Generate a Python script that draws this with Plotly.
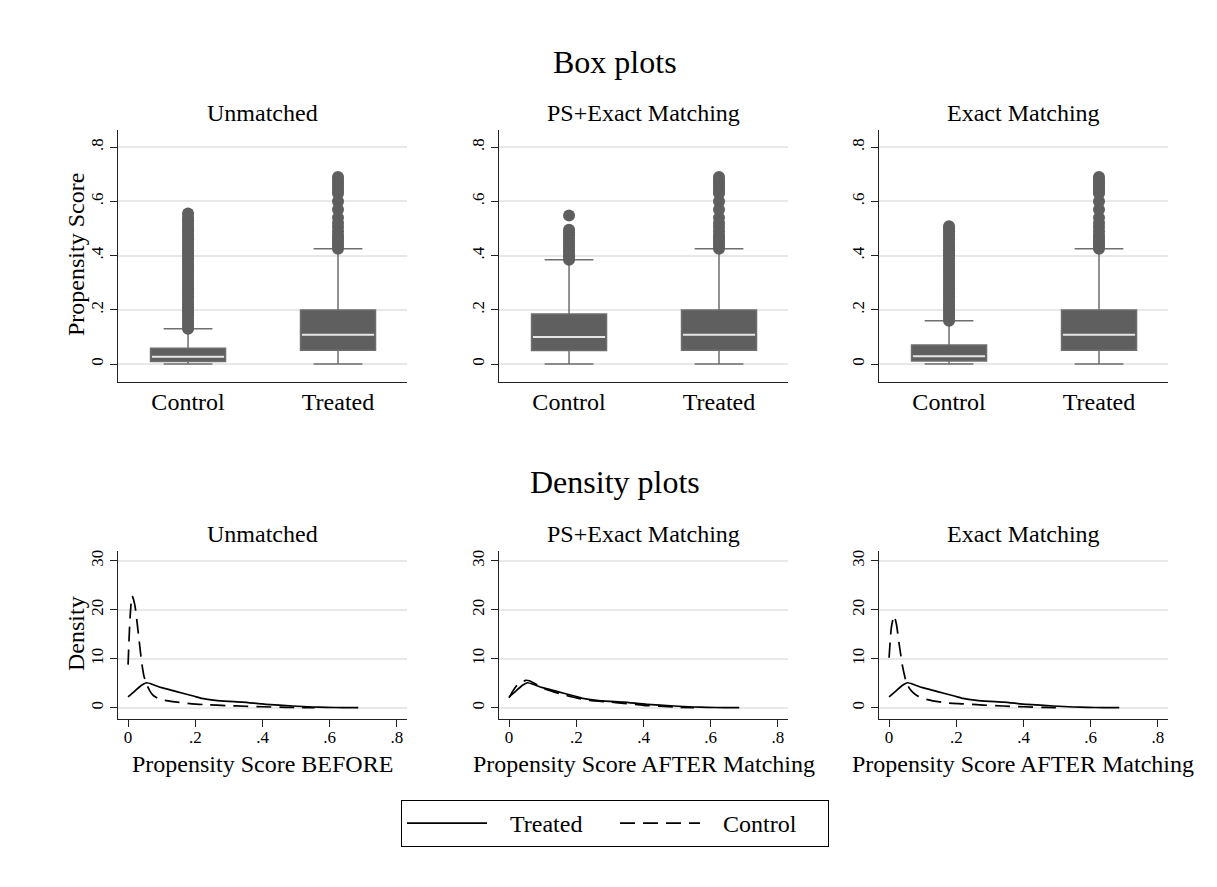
import plotly.graph_objects as go

# ---------------- data ----------------
panels = ["Unmatched", "PS+Exact Matching", "Exact Matching"]
groups = ["Control", "Treated"]

# box statistics per panel: [Control, Treated]
q1 = [[0.010, 0.051], [0.050, 0.051], [0.011, 0.051]]
median = [[0.027, 0.108], [0.100, 0.108], [0.029, 0.108]]
q3 = [[0.058, 0.199], [0.185, 0.199], [0.070, 0.199]]
lowerfence = [[0.0, 0.0], [0.0, 0.0], [0.0, 0.0]]
upperfence = [[0.130, 0.425], [0.385, 0.425], [0.160, 0.425]]

unm_control_outliers = [0.13, 0.14, 0.15, 0.16, 0.17, 0.18, 0.19, 0.20, 0.21, 0.22, 0.23, 0.24,
                        0.25, 0.26, 0.27, 0.28, 0.29, 0.30, 0.31, 0.32, 0.33, 0.34, 0.35, 0.36,
                        0.37, 0.38, 0.39, 0.40, 0.41, 0.42, 0.43, 0.44, 0.45, 0.46, 0.47, 0.48,
                        0.49, 0.50, 0.51, 0.52, 0.53, 0.54, 0.555]
ps_control_outliers = [0.385, 0.395, 0.405, 0.415, 0.425, 0.435, 0.445, 0.455, 0.465, 0.475,
                       0.485, 0.495, 0.548]
exact_control_outliers = [0.16, 0.17, 0.18, 0.19, 0.20, 0.21, 0.22, 0.23, 0.24, 0.25, 0.26, 0.27,
                          0.28, 0.29, 0.30, 0.31, 0.32, 0.33, 0.34, 0.35, 0.36, 0.37, 0.38, 0.39,
                          0.40, 0.41, 0.42, 0.43, 0.44, 0.45, 0.46, 0.47, 0.48, 0.49, 0.50, 0.508]
treated_outliers = [0.425, 0.435, 0.445, 0.455, 0.465, 0.475, 0.49, 0.505, 0.52, 0.54, 0.57,
                    0.60, 0.63, 0.64, 0.65, 0.66, 0.67, 0.68, 0.69]
outliers = [[unm_control_outliers, treated_outliers],
            [ps_control_outliers, treated_outliers],
            [exact_control_outliers, treated_outliers]]

# kernel densities
treated_x = [0.0, 0.02, 0.04, 0.055, 0.075, 0.1, 0.134, 0.16, 0.194, 0.22, 0.26, 0.3, 0.34,
             0.41, 0.49, 0.55, 0.59, 0.64, 0.685]
treated_y = [2.2, 3.4, 4.6, 5.1, 4.7, 4.1, 3.5, 3.0, 2.4, 1.9, 1.5, 1.3, 1.15, 0.7, 0.35,
             0.15, 0.07, 0.03, 0.01]

unm_control_x = [0.0, 0.006, 0.012, 0.02, 0.03, 0.04, 0.047, 0.055, 0.065, 0.075, 0.09, 0.11,
                 0.14, 0.19, 0.24, 0.29, 0.35, 0.4, 0.47, 0.555]
unm_control_y = [8.8, 18.5, 22.8, 21.0, 15.5, 9.5, 6.5, 4.8, 3.4, 2.5, 1.9, 1.5, 1.2, 0.8,
                 0.6, 0.45, 0.3, 0.2, 0.08, 0.0]
ps_control_x = [0.0, 0.01, 0.02, 0.03, 0.04, 0.05, 0.06, 0.08, 0.1, 0.13, 0.16, 0.2, 0.24,
                0.3, 0.35, 0.4, 0.45, 0.5, 0.55]
ps_control_y = [2.0, 3.3, 4.3, 5.0, 5.3, 5.6, 5.5, 4.8, 4.0, 3.3, 2.7, 2.0, 1.5, 1.15, 0.85,
                0.5, 0.3, 0.12, 0.0]
exact_control_x = [0.0, 0.007, 0.015, 0.022, 0.03, 0.04, 0.05, 0.06, 0.07, 0.085, 0.1, 0.13,
                   0.17, 0.22, 0.28, 0.34, 0.4, 0.46, 0.51]
exact_control_y = [10.2, 16.5, 18.8, 17.0, 13.0, 8.5, 5.5, 4.0, 3.2, 2.4, 1.9, 1.4, 1.0, 0.8,
                   0.55, 0.35, 0.2, 0.08, 0.0]
control_dens = [(unm_control_x, unm_control_y), (ps_control_x, ps_control_y),
                (exact_control_x, exact_control_y)]

box_ticks = [0, 0.2, 0.4, 0.6, 0.8]
box_ticktext = ["0", ".2", ".4", ".6", ".8"]
dens_xticks = [0, 0.2, 0.4, 0.6, 0.8]
dens_xticktext = ["0", ".2", ".4", ".6", ".8"]
dens_yticks = [0, 10, 20, 30]
xtitles = ["Propensity Score BEFORE", "Propensity Score AFTER Matching",
           "Propensity Score AFTER Matching"]

# ---------------- layout helpers ----------------
PAGE_W, PAGE_H = 1217, 887
OFF = 8                       # page body margin
W, H = PAGE_W - 2 * OFF, PAGE_H - 2 * OFF
FONT = "Liberation Serif"
BOX_COL = "#5f5f5f"
WHISK_COL = "#6e6e6e"
MED_COL = "#e6e6e6"
GRID = "#e8e8e8"
AXC = "#222222"
BOX_W = 0.5

def fx(p):
    return (p - OFF) / W

def fy(p):
    return 1 - (p - OFF) / H

panel_left = [118, 499, 879]
panel_w = 289
box_top, box_bot = 130, 382
den_top, den_bot = 551, 719

fig = go.Figure()

for i in range(3):
    xa = "x" if i == 0 else f"x{i+1}"
    ya = "y" if i == 0 else f"y{i+1}"
    for j in range(2):
        fig.add_trace(go.Box(
            x=[j], q1=[q1[i][j]], median=[median[i][j]], q3=[q3[i][j]],
            lowerfence=[lowerfence[i][j]], upperfence=[upperfence[i][j]],
            width=BOX_W, whiskerwidth=0.65, fillcolor=BOX_COL,
            line=dict(color=WHISK_COL, width=1.5), boxpoints=False,
            showlegend=False, hoverinfo="skip", xaxis=xa, yaxis=ya))
        fig.add_trace(go.Scatter(
            x=[j - BOX_W / 2 + 0.01, j + BOX_W / 2 - 0.01], y=[median[i][j], median[i][j]],
            mode="lines", line=dict(color=MED_COL, width=2),
            showlegend=False, hoverinfo="skip", xaxis=xa, yaxis=ya))
        fig.add_trace(go.Scatter(
            x=[j] * len(outliers[i][j]), y=outliers[i][j], mode="markers",
            marker=dict(size=12, color=BOX_COL, line=dict(width=0)),
            showlegend=False, hoverinfo="skip", xaxis=xa, yaxis=ya))

NB = "\u00a0\u00a0\u00a0"
for i in range(3):
    k = i + 4
    xa, ya = f"x{k}", f"y{k}"
    fig.add_trace(go.Scatter(
        x=treated_x, y=treated_y, mode="lines", name=NB + "Treated",
        line=dict(color="black", width=1.7, shape="spline", smoothing=0.6),
        showlegend=(i == 0), xaxis=xa, yaxis=ya))
    cx, cy = control_dens[i]
    fig.add_trace(go.Scatter(
        x=cx, y=cy, mode="lines", name=NB + "Control",
        line=dict(color="black", width=1.7, dash="15px,8px", shape="spline", smoothing=0.6),
        showlegend=(i == 0), xaxis=xa, yaxis=ya))

layout = dict(
    width=W, height=H, margin=dict(l=0, r=0, t=0, b=0),
    paper_bgcolor="white", plot_bgcolor="white",
    font=dict(family=FONT, color="black"),
    legend=dict(orientation="h", x=fx(401), xanchor="left", y=fy(800), yanchor="top",
                bordercolor="black", borderwidth=1, font=dict(size=24, family=FONT),
                itemwidth=80, entrywidth=118, bgcolor="white"),
)

for i in range(3):
    dom_x = [fx(panel_left[i]), fx(panel_left[i] + panel_w)]
    sfx = "" if i == 0 else str(i + 1)
    layout["xaxis" + sfx] = dict(
        domain=dom_x, anchor="y" + sfx, range=[-0.467, 1.46],
        tickvals=[0, 1], ticktext=groups, showgrid=False, zeroline=False,
        showline=True, linecolor=AXC, linewidth=1.3, ticks="",
        tickfont=dict(size=24), ticklabelstandoff=-2)
    layout["yaxis" + sfx] = dict(
        domain=[fy(box_bot), fy(box_top)], anchor="x" + sfx, range=[-0.066, 0.863],
        tickvals=box_ticks, ticktext=box_ticktext, tickangle=-90,
        showgrid=True, gridcolor=GRID, gridwidth=1.5, zeroline=False,
        showline=True, linecolor=AXC, linewidth=1.3, ticks="outside", ticklen=7,
        tickcolor=AXC, tickfont=dict(size=17))
    k = str(i + 4)
    layout["xaxis" + k] = dict(
        domain=dom_x, anchor="y" + k, range=[-0.03, 0.83],
        tickvals=dens_xticks, ticktext=dens_xticktext, showgrid=False, zeroline=False,
        showline=True, linecolor=AXC, linewidth=1.3, ticks="outside", ticklen=7,
        tickcolor=AXC, tickfont=dict(size=17), ticklabelstandoff=-5)
    layout["yaxis" + k] = dict(
        domain=[fy(den_bot), fy(den_top)], anchor="x" + k, range=[-2.3, 32],
        tickvals=dens_yticks, tickangle=-90,
        showgrid=True, gridcolor=GRID, gridwidth=1.5, zeroline=False,
        showline=True, linecolor=AXC, linewidth=1.3, ticks="outside", ticklen=7,
        tickcolor=AXC, tickfont=dict(size=17))

ann = []
ann.append(dict(text="Box plots", x=fx(615), y=fy(62), font=dict(size=32)))
ann.append(dict(text="Density plots", x=fx(615), y=fy(482), font=dict(size=32)))
for i in range(3):
    cx = fx(panel_left[i] + panel_w / 2)
    ann.append(dict(text=panels[i], x=cx, y=fy(113), font=dict(size=24)))
    ann.append(dict(text=panels[i], x=cx, y=fy(534), font=dict(size=24)))
    ann.append(dict(text=xtitles[i], x=cx, y=fy(764), font=dict(size=24)))
ann.append(dict(text="Propensity Score", x=fx(76), y=fy(255), textangle=-90, font=dict(size=24)))
ann.append(dict(text="Density", x=fx(76), y=fy(634), textangle=-90, font=dict(size=24)))
for a in ann:
    a.update(xref="paper", yref="paper", xanchor="center", yanchor="middle", showarrow=False)
layout["annotations"] = ann

fig.update_layout(**layout)
fig.write_html("out.html")
